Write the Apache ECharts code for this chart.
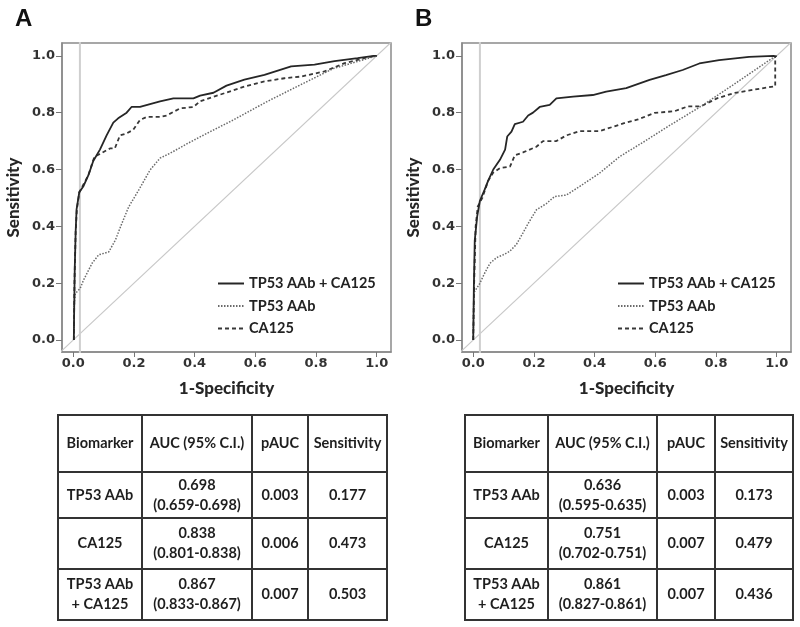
<!DOCTYPE html>
<html>
<head>
<meta charset="utf-8">
<script src="https://cdn.jsdelivr.net/npm/echarts@6/dist/echarts.min.js"></script>
<style>
html,body{margin:0;padding:0;background:#fff;}
#chart{width:800px;height:627px;}
</style>
</head>
<body>
<div id="chart"></div>
<script>
// ---------- DATA ----------
const panelLabels = ['A', 'B'];
const seriesNames = ['TP53 AAb + CA125', 'TP53 AAb', 'CA125'];
const tickValues = [0, 0.2, 0.4, 0.6, 0.8, 1.0];
const refVerticalX = 0.022;
const diagonal = [[-0.1, -0.1], [1.1, 1.1]];

// Panel A ROC curves [1-specificity, sensitivity]
const rocA_combined = [[0.002,0],[0.003,0.10],[0.005,0.25],[0.008,0.38],[0.011,0.46],[0.02,0.52],[0.033,0.54],[0.05,0.58],[0.066,0.63],[0.088,0.67],[0.11,0.72],[0.132,0.765],[0.148,0.78],[0.176,0.80],[0.192,0.82],[0.22,0.82],[0.253,0.83],[0.286,0.84],[0.33,0.85],[0.396,0.85],[0.418,0.86],[0.462,0.87],[0.505,0.895],[0.564,0.916],[0.63,0.933],[0.718,0.963],[0.795,0.969],[0.861,0.981],[0.937,0.992],[0.99,1.0],[1,1]];
const rocA_tp53 = [[0.002,0],[0.003,0.12],[0.007,0.164],[0.023,0.182],[0.034,0.211],[0.062,0.27],[0.084,0.30],[0.117,0.31],[0.139,0.352],[0.16,0.41],[0.183,0.469],[0.216,0.528],[0.253,0.598],[0.286,0.64],[0.319,0.657],[0.374,0.69],[0.44,0.727],[0.527,0.774],[0.637,0.838],[0.747,0.897],[0.857,0.955],[1,1]];
const rocA_ca125 = [[0.002,0],[0.004,0.2],[0.008,0.38],[0.012,0.46],[0.02,0.52],[0.035,0.55],[0.05,0.58],[0.065,0.63],[0.07,0.645],[0.088,0.655],[0.121,0.674],[0.137,0.674],[0.154,0.72],[0.176,0.727],[0.198,0.74],[0.22,0.774],[0.242,0.785],[0.286,0.785],[0.308,0.79],[0.352,0.815],[0.396,0.82],[0.418,0.84],[0.5,0.869],[0.564,0.892],[0.63,0.91],[0.696,0.921],[0.751,0.927],[0.828,0.945],[0.894,0.974],[0.96,0.992],[1,1]];

// Panel B ROC curves
const rocB_combined = [[0,0],[0.002,0.18],[0.005,0.35],[0.013,0.435],[0.022,0.49],[0.038,0.53],[0.049,0.56],[0.066,0.60],[0.088,0.634],[0.105,0.67],[0.112,0.716],[0.126,0.733],[0.137,0.76],[0.164,0.768],[0.181,0.79],[0.197,0.80],[0.219,0.82],[0.252,0.827],[0.274,0.85],[0.329,0.856],[0.394,0.862],[0.438,0.874],[0.504,0.886],[0.581,0.915],[0.635,0.932],[0.69,0.95],[0.745,0.973],[0.81,0.985],[0.909,0.996],[0.99,1.0],[0.997,0.995]];
const rocB_tp53 = [[0,0],[0.002,0.166],[0.009,0.178],[0.022,0.20],[0.038,0.236],[0.055,0.27],[0.077,0.29],[0.099,0.30],[0.12,0.312],[0.142,0.336],[0.164,0.377],[0.181,0.41],[0.208,0.458],[0.241,0.48],[0.268,0.505],[0.307,0.51],[0.35,0.54],[0.416,0.587],[0.482,0.645],[0.569,0.702],[0.635,0.747],[0.75,0.822],[0.854,0.896],[0.997,1.0]];
const rocB_ca125 = [[0,0],[0.003,0.2],[0.008,0.40],[0.015,0.47],[0.03,0.5],[0.049,0.56],[0.066,0.589],[0.088,0.605],[0.121,0.61],[0.137,0.65],[0.164,0.66],[0.208,0.68],[0.23,0.70],[0.274,0.70],[0.307,0.72],[0.35,0.735],[0.416,0.735],[0.46,0.75],[0.5,0.764],[0.543,0.776],[0.597,0.799],[0.663,0.805],[0.707,0.822],[0.75,0.822],[0.805,0.851],[0.86,0.869],[0.926,0.881],[0.995,0.893],[0.995,0.998],[1,1]];

// Tables
const tableHeader = ['Biomarker', 'AUC (95% C.I.)', 'pAUC', 'Sensitivity'];
const tableBiomarkers = ['TP53 AAb', 'CA125', 'TP53 AAb\n+ CA125'];
const aucA = ['0.698', '0.838', '0.867'];
const ciA = ['(0.659-0.698)', '(0.801-0.838)', '(0.833-0.867)'];
const pAucA = ['0.003', '0.006', '0.007'];
const sensA = ['0.177', '0.473', '0.503'];
const aucB = ['0.636', '0.751', '0.861'];
const ciB = ['(0.595-0.635)', '(0.702-0.751)', '(0.827-0.861)'];
const pAucB = ['0.003', '0.007', '0.007'];
const sensB = ['0.173', '0.479', '0.436'];

// ---------- LAYOUT ----------
const grids = [
  {left: 62, top: 43, width: 329, height: 309},
  {left: 462, top: 43, width: 329, height: 309}
];
const axisX = {min: -0.037, max: 1.047};
const axisY = {min: -0.042, max: 1.045};
const tableLayouts = [
  {cols: [58, 142, 252, 308, 387], rows: [415, 472, 518, 569, 620]},
  {cols: [465, 548, 657, 715, 793], rows: [415, 472, 518, 569, 620]}
];
const FONT = 'Lato, "Open Sans", sans-serif';

const styles = [
  {color: '#262626', width: 1.8, type: 'solid'},
  {color: '#6a6a6a', width: 1.5, type: [1.5, 1.5]},
  {color: '#383838', width: 1.8, type: [4, 3]}
];
const rocData = [
  [rocA_combined, rocA_tp53, rocA_ca125],
  [rocB_combined, rocB_tp53, rocB_ca125]
];

const xAxes = [], yAxes = [], series = [], legends = [], titles = [];
grids.forEach((g, i) => {
  xAxes.push({
    type: 'value', gridIndex: i, min: axisX.min, max: axisX.max,
    name: '1-Specificity', nameLocation: 'middle', nameGap: 28,
    nameTextStyle: {fontFamily: FONT, fontWeight: 900, fontSize: 17, color: '#262626'},
    axisLine: {show: true, onZero: false, lineStyle: {color: '#8a8a8a', width: 1.5}},
    axisTick: {show: true, length: 5, customValues: tickValues, lineStyle: {color: '#777'}},
    axisLabel: {customValues: tickValues, margin: 5, fontFamily: '"DejaVu Sans", sans-serif', fontWeight: 'bold', fontSize: 13, color: '#333', formatter: v => v.toFixed(1)},
    splitLine: {show: false}
  });
  yAxes.push({
    type: 'value', gridIndex: i, min: axisY.min, max: axisY.max,
    name: 'Sensitivity', nameLocation: 'middle', nameGap: 40,
    nameTextStyle: {fontFamily: FONT, fontWeight: 900, fontSize: 17, color: '#262626'},
    axisLine: {show: true, onZero: false, lineStyle: {color: '#8a8a8a', width: 1.5}},
    axisTick: {show: true, length: 6, customValues: tickValues, lineStyle: {color: '#777'}},
    axisLabel: {customValues: tickValues, margin: 7, fontFamily: '"DejaVu Sans", sans-serif', fontWeight: 'bold', fontSize: 13, color: '#333', formatter: v => v.toFixed(1)},
    splitLine: {show: false}
  });
  // reference lines
  series.push({
    type: 'line', xAxisIndex: i, yAxisIndex: i, data: diagonal, symbol: 'none', silent: true,
    lineStyle: {color: '#c8c8c8', width: 1.2}, z: 1
  });
  series.push({
    type: 'line', xAxisIndex: i, yAxisIndex: i, data: [[refVerticalX, -0.1], [refVerticalX, 1.1]], symbol: 'none', silent: true,
    lineStyle: {color: '#cfcfcf', width: 2}, z: 1
  });
  seriesNames.forEach((name, k) => {
    series.push({
      name: name, type: 'line', xAxisIndex: i, yAxisIndex: i, data: rocData[i][k],
      symbol: 'none', smooth: false, z: 3 - k + 2,
      lineStyle: {color: styles[k].color, width: styles[k].width, type: styles[k].type},
      itemStyle: {color: styles[k].color}
    });
  });
  legends.push({
    data: seriesNames, orient: 'vertical', left: g.left + 150, top: 271,
    itemWidth: 26, itemHeight: 14, itemGap: 7.5, selectedMode: false,
    itemStyle: {opacity: 0},
    textStyle: {fontFamily: FONT, fontWeight: 'bold', fontSize: 14.5, color: '#222'}
  });
  titles.push({
    text: panelLabels[i], left: i === 0 ? 10 : 410, top: 2,
    textStyle: {fontFamily: '"Liberation Sans", Arial, sans-serif', fontWeight: 'bold', fontSize: 24, color: '#111'}
  });
});

// tables via graphic
const graphics = [];
const tableContents = [
  [aucA, ciA, pAucA, sensA],
  [aucB, ciB, pAucB, sensB]
];
tableLayouts.forEach((t, ti) => {
  const [auc, ci, pauc, sens] = tableContents[ti];
  const x0 = t.cols[0], x1 = t.cols[t.cols.length - 1];
  const y0 = t.rows[0], y1 = t.rows[t.rows.length - 1];
  t.rows.forEach(y => graphics.push({type: 'line', shape: {x1: x0 - 1, y1: y, x2: x1 + 1, y2: y}, style: {stroke: '#333', lineWidth: 2}}));
  t.cols.forEach(x => graphics.push({type: 'line', shape: {x1: x, y1: y0, x2: x, y2: y1}, style: {stroke: '#333', lineWidth: 2}}));
  const cell = (r, c, text) => {
    const cx = (t.cols[c] + t.cols[c + 1]) / 2;
    const cy = (t.rows[r] + t.rows[r + 1]) / 2;
    graphics.push({
      type: 'text', x: cx, y: cy,
      style: {text: text, fill: '#1e1e1e', fontFamily: FONT, fontWeight: 'bold', fontSize: 14.5, lineHeight: 20,
        align: 'center', verticalAlign: 'middle'}
    });
  };
  tableHeader.forEach((h, c) => cell(0, c, h));
  tableBiomarkers.forEach((b, r) => {
    cell(r + 1, 0, b);
    cell(r + 1, 1, auc[r] + '\n' + ci[r]);
    cell(r + 1, 2, pauc[r]);
    cell(r + 1, 3, sens[r]);
  });
});

const chart = echarts.init(document.getElementById('chart'), null, {renderer: 'canvas'});
chart.setOption({
  backgroundColor: '#fff',
  animation: false,
  title: titles,
  grid: grids.map(g => Object.assign({show: true, borderColor: '#8a8a8a', borderWidth: 1.5, backgroundColor: 'transparent'}, g)),
  xAxis: xAxes,
  yAxis: yAxes,
  legend: legends,
  series: series,
  graphic: graphics
});
</script>
</body>
</html>
